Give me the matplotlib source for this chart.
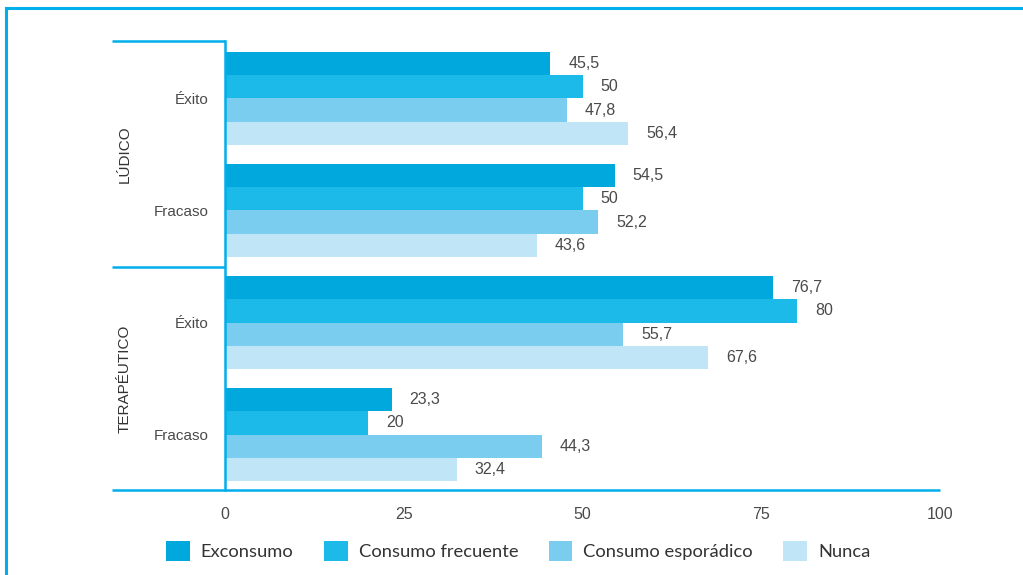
import matplotlib
matplotlib.use("Agg")
import matplotlib.pyplot as plt
from matplotlib.patches import Patch
from matplotlib.lines import Line2D
import matplotlib.transforms as mtransforms

plt.rcParams['font.family'] = ['Liberation Sans', 'DejaVu Sans']

# Data
groups = ["LÚDICO", "TERAPÉUTICO"]
subcats = ["Éxito", "Fracaso", "Éxito", "Fracaso"]
series = ["Exconsumo", "Consumo frecuente", "Consumo esporádico", "Nunca"]
exconsumo = [45.5, 54.5, 76.7, 23.3]
consumo_frecuente = [50, 50, 80, 20]
consumo_esporadico = [47.8, 52.2, 55.7, 44.3]
nunca = [56.4, 43.6, 67.6, 32.4]
values = [exconsumo, consumo_frecuente, consumo_esporadico, nunca]
xticks = [0, 25, 50, 75, 100]

colors = ["#00A8DE", "#1BBAE8", "#7BCDEF", "#C0E5F7"]
line_c = "#00AEEA"
txt_c = "#4A4A4A"

W, H = 1023, 575
fig = plt.figure(figsize=(W / 100, H / 100), dpi=100)
ax_l, ax_r, ax_t, ax_b = 225, 940, 41, 490
ax = fig.add_axes([ax_l / W, 1 - ax_b / H, (ax_r - ax_l) / W, (ax_b - ax_t) / H])

pitch = 4.83
centers = [k * pitch for k in range(len(subcats))]
for j, (name, vals) in enumerate(zip(series, values)):
    ys = [c + (j - 1.5) for c in centers]
    ax.barh(ys, vals, height=1.0, color=colors[j], label=name, zorder=2)
    for y, v in zip(ys, vals):
        lab = f"{v:g}".replace(".", ",")
        ax.annotate(lab, (v, y), xytext=(13, 0), textcoords="offset points",
                    ha="left", va="center", fontsize=11.5, color=txt_c)

ax.set_xlim(0, 100)
ax.set_ylim(centers[-1] + 2 + 9 / 23.2, -2 - 11 / 23.2)
ax.set_xticks(xticks)
ax.set_xticklabels([str(t) for t in xticks], fontsize=11.5, color=txt_c)
ax.set_yticks(centers)
ax.set_yticklabels(subcats, fontsize=11, color=txt_c)
ax.tick_params(axis="x", length=0, pad=12)
ax.tick_params(axis="y", length=0, pad=12)
for s in ["top", "right", "bottom"]:
    ax.spines[s].set_visible(False)
ax.spines["left"].set_color(line_c)
ax.spines["left"].set_linewidth(1.8)

xl = (112 - ax_l) / (ax_r - ax_l)
lw = 1.8
# top line and bottom line (axes coords)
ax.plot([xl, 0], [1, 1], transform=ax.transAxes, color=line_c, lw=lw, clip_on=False, solid_capstyle="butt")
ax.plot([xl, 1], [0, 0], transform=ax.transAxes, color=line_c, lw=lw, clip_on=False, solid_capstyle="butt", zorder=3)
# separator between groups
trans = mtransforms.blended_transform_factory(ax.transAxes, ax.transData)
sep_y = (centers[1] + centers[2]) / 2
ax.plot([xl, 0], [sep_y, sep_y], transform=trans, color=line_c, lw=lw, clip_on=False, solid_capstyle="butt")

# group labels
gx = (125 - ax_l) / (ax_r - ax_l)
for g, yc in zip(groups, [(centers[0] + centers[1]) / 2, (centers[2] + centers[3]) / 2]):
    ax.text(gx, yc, g, transform=trans, rotation=90, ha="center", va="center",
            fontsize=11, color="#333333")

# legend
handles = [Patch(facecolor=c, edgecolor="none") for c in colors]
leg = fig.legend(handles, series, ncol=4, loc="center left",
                 bbox_to_anchor=(166 / W, 1 - 551 / H), frameon=False,
                 handlelength=1.3, handleheight=1.3,
                 handletextpad=0.6, columnspacing=1.65, borderaxespad=0,
                 borderpad=0, prop={"family": "Lato", "size": 13.2})
for t in leg.get_texts():
    t.set_color("#333333")

# frame lines
fig.add_artist(Line2D([6 / W, 1], [1 - 8 / H, 1 - 8 / H], color=line_c, lw=2.2))
fig.add_artist(Line2D([6 / W, 6 / W], [0, 1 - 8 / H], color=line_c, lw=2.2))

fig.savefig("out.png", dpi=100, facecolor="white")
